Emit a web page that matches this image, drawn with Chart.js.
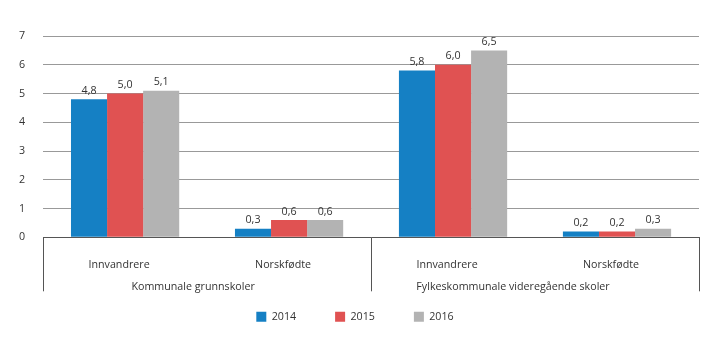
<!DOCTYPE html>
<html>
<head>
<meta charset="utf-8">
<script src="https://cdn.jsdelivr.net/npm/chart.js@4"></script>
<style>
  html, body { margin: 0; padding: 0; background: #fff; }
  #wrap { width: 720px; height: 341px; }
</style>
</head>
<body>
<div id="wrap"><canvas id="elevChart"></canvas></div>
<script>
        // Data
        var kategorier = ['Innvandrere', 'Norskfødte', 'Innvandrere', 'Norskfødte'];
        var grupper = ['Kommunale grunnskoler', 'Fylkeskommunale videregående skoler'];
        var aar = ['2014', '2015', '2016'];
        var verdier2014 = [4.8, 0.3, 5.8, 0.2];
        var verdier2015 = [5.0, 0.6, 6.0, 0.2];
        var verdier2016 = [5.1, 0.6, 6.5, 0.3];
        var yTicks = [0, 1, 2, 3, 4, 5, 6, 7];

        var fontFamily = '"Open Sans", "DejaVu Sans", sans-serif';
        var fontSize = 10.7;
        Chart.defaults.font.family = fontFamily;
        Chart.defaults.font.size = fontSize;
        Chart.defaults.color = '#333';

        // Forskyvning av etikettene (som i originalen)
        var kategoriForskyvning = -6;
        var gruppeForskyvning = [-14, -22];
        var legendeForskyvning = 5;

        // Verdier over stolpene, med komma som desimaltegn
        var verdiEtiketter = {
            id: 'verdiEtiketter',
            afterDatasetsDraw: function (chart) {
                var ctx = chart.ctx;
                ctx.save();
                ctx.font = fontSize + 'px ' + fontFamily;
                ctx.fillStyle = '#333';
                ctx.textAlign = 'center';
                ctx.textBaseline = 'bottom';
                chart.data.datasets.forEach(function (ds, i) {
                    chart.getDatasetMeta(i).data.forEach(function (bar, j) {
                        ctx.fillText(ds.data[j].toFixed(1).replace('.', ','), bar.x, bar.y - 3);
                    });
                });
                ctx.restore();
            }
        };

        // Kategorinavn og gruppenavn under aksen
        var aksetekster = {
            id: 'aksetekster',
            afterLayout: function (chart) {
                chart.legend.left += legendeForskyvning;
                chart.legend.right += legendeForskyvning;
            },
            afterDraw: function (chart) {
                var ctx = chart.ctx;
                var x = chart.scales.x;
                var bunn = chart.chartArea.bottom;
                ctx.save();
                ctx.font = fontSize + 'px ' + fontFamily;
                ctx.fillStyle = '#333';
                ctx.textAlign = 'center';
                ctx.textBaseline = 'middle';
                kategorier.forEach(function (navn, i) {
                    ctx.fillText(navn, x.getPixelForValue(i) + kategoriForskyvning, bunn + 28);
                });
                grupper.forEach(function (navn, g) {
                    var midt = (x.getPixelForValue(g * 2) + x.getPixelForValue(g * 2 + 1)) / 2;
                    ctx.fillText(navn, midt + gruppeForskyvning[g], bunn + 50);
                });
                ctx.restore();
            }
        };

        var elevConfig = {
            type: 'bar',
            data: {
                labels: kategorier,
                datasets: [{
                    label: aar[0],
                    backgroundColor: '#1580c4',
                    data: verdier2014
                }, {
                    label: aar[1],
                    backgroundColor: '#e05252',
                    data: verdier2015
                }, {
                    label: aar[2],
                    backgroundColor: '#b3b3b3',
                    data: verdier2016
                }]
            },
            options: {
                responsive: true,
                maintainAspectRatio: false,
                animation: false,
                layout: { padding: { left: 1, right: 21, top: 36, bottom: 9 } },
                datasets: {
                    bar: { barPercentage: 1, categoryPercentage: 0.66 }
                },
                scales: {
                    x: {
                        offset: true,
                        border: { display: true, color: '#555', width: 1 },
                        grid: {
                            offset: true,
                            drawOnChartArea: false,
                            drawTicks: true,
                            tickLength: 54,
                            color: function (c) {
                                return (c.type !== 'tick' || c.index % 2 === 0) ? '#555' : 'rgba(0,0,0,0)';
                            }
                        },
                        ticks: { display: false },
                        afterFit: function (scale) { scale.height = 35; }
                    },
                    y: {
                        min: 0,
                        max: 7,
                        afterBuildTicks: function (scale) {
                            scale.ticks = yTicks.map(function (v) { return { value: v }; });
                        },
                        border: { display: false },
                        grid: { color: '#999', drawTicks: false },
                        ticks: { padding: 18, color: '#333', font: { size: fontSize } }
                    }
                },
                plugins: {
                    legend: {
                        position: 'bottom',
                        labels: {
                            boxWidth: 10,
                            boxHeight: 10,
                            padding: 39,
                            color: '#333',
                            font: { size: fontSize }
                        }
                    },
                    tooltip: { enabled: false }
                }
            },
            plugins: [verdiEtiketter, aksetekster]
        };

        var ctxElev = document.getElementById('elevChart').getContext('2d');
        var elevChart = new Chart(ctxElev, elevConfig);
</script>
</body>
</html>
